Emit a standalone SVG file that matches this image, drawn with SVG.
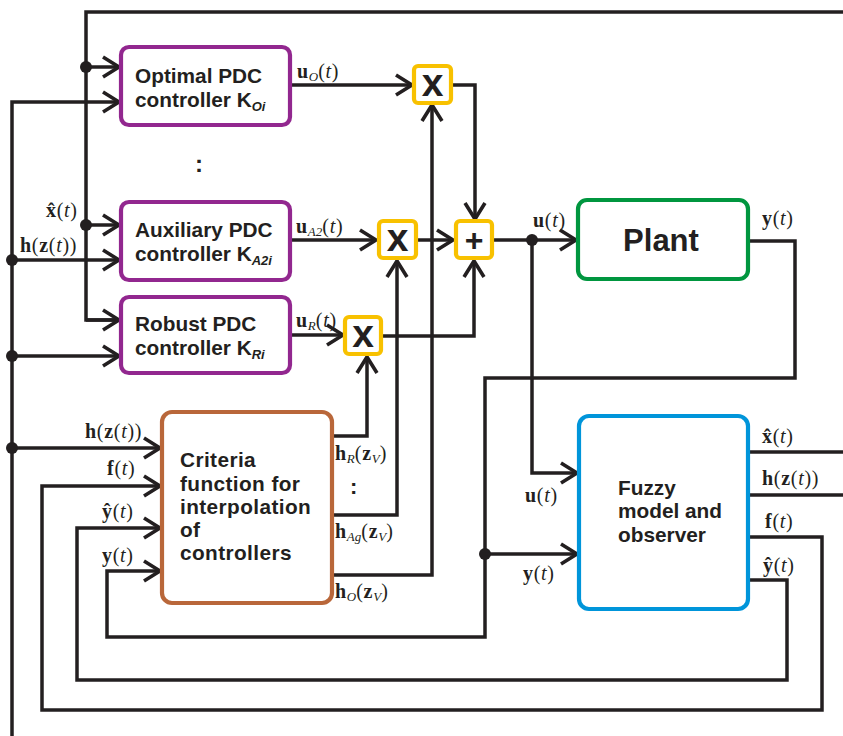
<svg xmlns="http://www.w3.org/2000/svg" width="843" height="736" viewBox="0 0 843 736">
<style>
.ln{fill:none;stroke:#231f20;stroke-width:3.5;stroke-linejoin:miter}
.ar{marker-end:url(#a)}
.dot{fill:#231f20}
.box{fill:#fff;stroke-width:4.2}
.ctl{stroke:#92278f}
.op{stroke:#f8c100}
.t{font-family:"Liberation Sans",Arial,sans-serif;font-weight:bold;fill:#231f20}
.bt{font-size:20.8px}
.cr{letter-spacing:0.4px}
.sb{font-size:13px;font-style:italic}
.m{font-family:"Liberation Serif","Times New Roman",serif;font-size:20px;letter-spacing:0.7px;fill:#231f20}
.b{font-weight:bold}
.i{font-style:italic}
.s{font-size:13px;font-style:italic;letter-spacing:0}
</style>
<defs>
<marker id="a" markerUnits="userSpaceOnUse" markerWidth="22" markerHeight="26" viewBox="0 0 22 26" refX="18" refY="13" orient="auto">
<path d="M2,3 L18,13 L2,23" fill="none" stroke="#231f20" stroke-width="3.6"/>
</marker>
</defs>

<g id="connectors">
<path class="ln" d="M843,12 H86 V320 H119"/>
<path class="ln ar" d="M86,320 H119"/>
<path class="ln ar" d="M86,67 H119"/>
<path class="ln ar" d="M86,225 H119"/>
<path class="ln ar" d="M12,736 V102 H119"/>
<path class="ln ar" d="M12,260 H119"/>
<path class="ln ar" d="M12,356 H119"/>
<path class="ln ar" d="M12,448 H160"/>
<circle class="dot" cx="86" cy="67" r="6"/>
<circle class="dot" cx="86" cy="225" r="6"/>
<circle class="dot" cx="12" cy="260" r="6"/>
<circle class="dot" cx="12" cy="356" r="6"/>
<circle class="dot" cx="12" cy="448" r="6"/>

<path class="ln ar" d="M290,85 H412"/>
<path class="ln ar" d="M290,240 H376"/>
<path class="ln ar" d="M290,335 H343"/>
<path class="ln ar" d="M451,85 H475 V219"/>
<path class="ln ar" d="M417,240 H453"/>
<path class="ln ar" d="M381,336 H474 V261"/>
<path class="ln ar" d="M492,240 H576"/>
<circle class="dot" cx="532" cy="240" r="6"/>
<path class="ln ar" d="M532,240 V473 H577"/>

<path class="ln ar" d="M748,241 H795 V378 H485 V637 H107 V571 H160"/>
<circle class="dot" cx="485" cy="554" r="6"/>
<path class="ln ar" d="M485,554 H577"/>
<path class="ln ar" d="M748,580 H787 V680 H77 V528 H160"/>
<path class="ln ar" d="M748,537 H822 V710 H42 V486 H160"/>
<path class="ln" d="M748,452 H843"/>
<path class="ln" d="M748,495 H843"/>

<path class="ln ar" d="M332,436 H367 V357"/>
<path class="ln ar" d="M332,515 H397 V261"/>
<path class="ln ar" d="M332,575 H432 V105"/>

<text class="m" x="297" y="78"><tspan class="b">u</tspan><tspan class="s" dy="3">O</tspan><tspan dy="-3">(</tspan><tspan class="i">t</tspan>)</text>
<text class="m" x="296" y="233"><tspan class="b">u</tspan><tspan class="s" dy="3">A2</tspan><tspan dy="-3">(</tspan><tspan class="i">t</tspan>)</text>
<text class="m" x="296" y="327"><tspan class="b">u</tspan><tspan class="s" dy="3">R</tspan><tspan dy="-3">(</tspan><tspan class="i">t</tspan>)</text>
<text class="m" x="533" y="227"><tspan class="b">u</tspan>(<tspan class="i">t</tspan>)</text>
<text class="m" x="762" y="225"><tspan class="b">y</tspan>(<tspan class="i">t</tspan>)</text>
<text class="m" x="762" y="443"><tspan class="b">x̂</tspan>(<tspan class="i">t</tspan>)</text>
<text class="m" x="762" y="485"><tspan class="b">h</tspan>(<tspan class="b">z</tspan>(<tspan class="i">t</tspan>))</text>
<text class="m" x="765" y="528"><tspan class="b">f</tspan>(<tspan class="i">t</tspan>)</text>
<text class="m" x="763" y="572"><tspan class="b">ŷ</tspan>(<tspan class="i">t</tspan>)</text>
<text class="m" x="525" y="502"><tspan class="b">u</tspan>(<tspan class="i">t</tspan>)</text>
<text class="m" x="523" y="580"><tspan class="b">y</tspan>(<tspan class="i">t</tspan>)</text>
<text class="m" x="46" y="217"><tspan class="b">x̂</tspan>(<tspan class="i">t</tspan>)</text>
<text class="m" x="20" y="252"><tspan class="b">h</tspan>(<tspan class="b">z</tspan>(<tspan class="i">t</tspan>))</text>
<text class="m" x="85" y="438"><tspan class="b">h</tspan>(<tspan class="b">z</tspan>(<tspan class="i">t</tspan>))</text>
<text class="m" x="107" y="475"><tspan class="b">f</tspan>(<tspan class="i">t</tspan>)</text>
<text class="m" x="102" y="518"><tspan class="b">ŷ</tspan>(<tspan class="i">t</tspan>)</text>
<text class="m" x="102" y="562"><tspan class="b">y</tspan>(<tspan class="i">t</tspan>)</text>
<text class="m" x="335" y="460"><tspan class="b">h</tspan><tspan class="s" dy="3">R</tspan><tspan dy="-3">(</tspan><tspan class="b">z</tspan><tspan class="s" dy="3">V</tspan><tspan dy="-3">)</tspan></text>
<text class="m" x="335" y="538"><tspan class="b">h</tspan><tspan class="s" dy="3">Ag</tspan><tspan dy="-3">(</tspan><tspan class="b">z</tspan><tspan class="s" dy="3">V</tspan><tspan dy="-3">)</tspan></text>
<text class="m" x="335" y="598"><tspan class="b">h</tspan><tspan class="s" dy="3">O</tspan><tspan dy="-3">(</tspan><tspan class="b">z</tspan><tspan class="s" dy="3">V</tspan><tspan dy="-3">)</tspan></text>
<text class="t" x="350" y="494" font-size="22">:</text>
<text class="t" x="195" y="172" font-size="24">:</text>
</g>

<g id="optimal">
<rect class="box ctl" x="121" y="47" width="169" height="78" rx="8"/>
<text class="t bt" x="135" y="83">Optimal PDC</text>
<text class="t bt" x="135" y="107">controller K<tspan class="sb" dy="4">Oi</tspan></text>
</g>
<g id="auxiliary">
<rect class="box ctl" x="121" y="202" width="169" height="78" rx="8"/>
<text class="t bt" x="135" y="237">Auxiliary PDC</text>
<text class="t bt" x="135" y="261">controller K<tspan class="sb" dy="4">A2i</tspan></text>
</g>
<g id="robust">
<rect class="box ctl" x="121" y="297" width="169" height="76" rx="8"/>
<text class="t bt" x="135" y="331">Robust PDC</text>
<text class="t bt" x="135" y="355">controller K<tspan class="sb" dy="4">Ri</tspan></text>
</g>
<g id="mult-opt">
<rect class="box op" x="414" y="66" width="37" height="37" rx="4"/>
<text class="t" x="432.5" y="96" font-size="39" text-anchor="middle">x</text>
</g>
<g id="mult-aux">
<rect class="box op" x="379" y="221" width="37" height="37" rx="4"/>
<text class="t" x="397.5" y="251" font-size="39" text-anchor="middle">x</text>
</g>
<g id="mult-rob">
<rect class="box op" x="345" y="317" width="36" height="37" rx="4"/>
<text class="t" x="363" y="347" font-size="39" text-anchor="middle">x</text>
</g>
<g id="sum">
<rect class="box op" x="456" y="221" width="36" height="37" rx="4"/>
<text class="t" x="474" y="251" font-size="32" text-anchor="middle">+</text>
</g>
<g id="plant">
<rect class="box" stroke="#00963f" x="578" y="200" width="170" height="79" rx="9"/>
<text class="t" x="661" y="251" font-size="31" text-anchor="middle">Plant</text>
</g>
<g id="criteria">
<rect class="box" stroke="#b9673a" x="162" y="412" width="170" height="191" rx="10"/>
<text class="t bt cr" x="180" y="467">Criteria</text>
<text class="t bt cr" x="180" y="491">function for</text>
<text class="t bt cr" x="180" y="514">interpolation</text>
<text class="t bt cr" x="180" y="537">of</text>
<text class="t bt cr" x="180" y="560">controllers</text>
</g>
<g id="fuzzy">
<rect class="box" stroke="#0095da" x="579" y="416" width="169" height="193" rx="10"/>
<text class="t bt" x="618" y="495">Fuzzy</text>
<text class="t bt" x="618" y="518">model and</text>
<text class="t bt" x="618" y="542">observer</text>
</g>
</svg>
